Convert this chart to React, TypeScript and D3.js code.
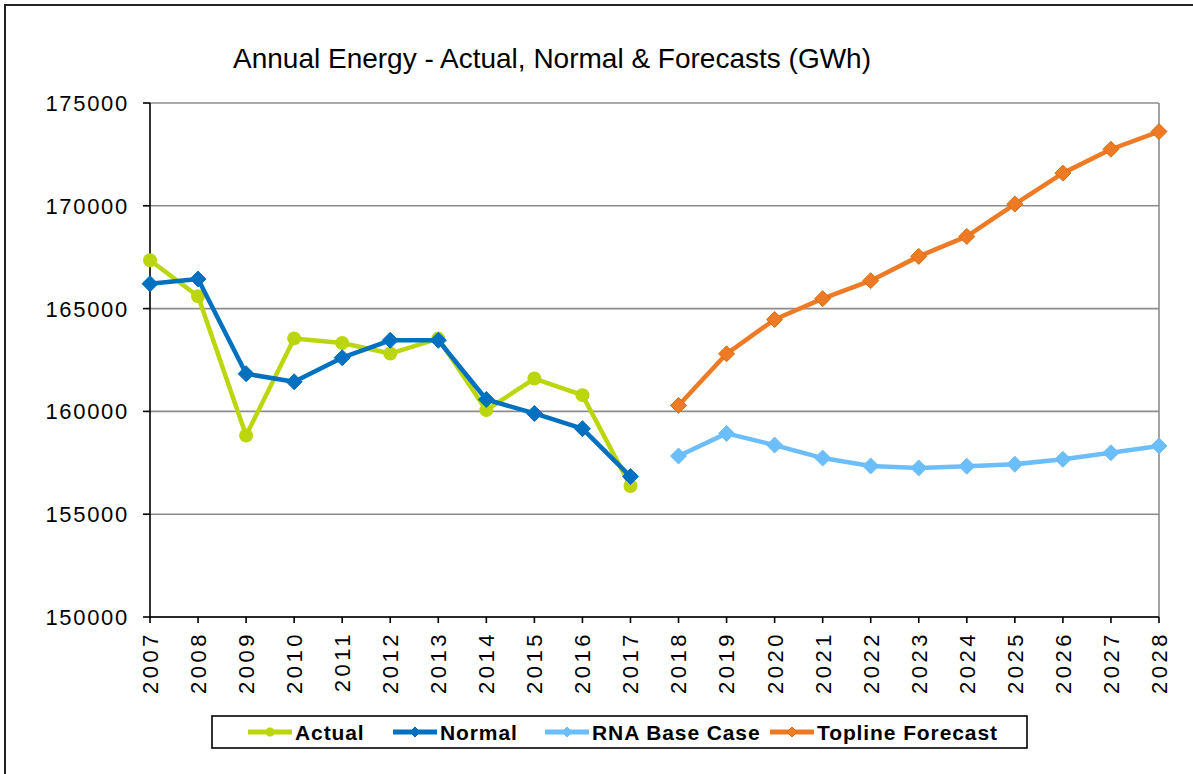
import React from "react";
import * as d3 from "d3";

const years = d3.range(2007, 2029);
const histYears = d3.range(2007, 2018);
const fcstYears = d3.range(2018, 2029);

const actual = [167350, 165600, 158830, 163550, 163330, 162815, 163540, 160060, 161600, 160790, 156370];
const normal = [166210, 166440, 161830, 161440, 162610, 163460, 163460, 160580, 159900, 159160, 156830];
const rnaBase = [157830, 158930, 158360, 157730, 157345, 157250, 157330, 157430, 157670, 157990, 158320];
const topline = [160290, 162800, 164470, 165485, 166360, 167540, 168510, 170085, 171590, 172750, 173610];

const yTicks = [150000, 155000, 160000, 165000, 170000, 175000];

const W = 1193;
const H = 774;
const L = 150, R = 1159, T = 103, B = 617;

const x = d3.scaleLinear().domain([2007, 2028]).range([L, R]);
const y = d3.scaleLinear().domain([150000, 175000]).range([B, T]);

const line = d3.line<[number, number]>().x((d) => x(d[0])).y((d) => y(d[1]));

const colors = {
  actual: "#BCD60E",
  normal: "#0070C0",
  rna: "#6CBEFA",
  topline: "#EE7A26",
};

function diamond(cx: number, cy: number, r: number) {
  return `M${cx},${cy - r}L${cx + r},${cy}L${cx},${cy + r}L${cx - r},${cy}Z`;
}

export default function App() {
  const series = [
    { key: "actual", yrs: histYears, vals: actual, color: colors.actual, marker: "circle" },
    { key: "normal", yrs: histYears, vals: normal, color: colors.normal, marker: "diamond" },
    { key: "rna", yrs: fcstYears, vals: rnaBase, color: colors.rna, marker: "diamond" },
    { key: "topline", yrs: fcstYears, vals: topline, color: colors.topline, marker: "diamondO" },
  ];
  const legend = [
    { label: "Actual", color: colors.actual, lx: 248, marker: "circle" },
    { label: "Normal", color: colors.normal, lx: 393, marker: "diamond" },
    { label: "RNA Base Case", color: colors.rna, lx: 545, marker: "diamond" },
    { label: "Topline Forecast", color: colors.topline, lx: 770, marker: "diamondO" },
  ];
  return (
    <svg
      width={W}
      height={H}
      style={{ position: "absolute", left: 0, top: 0, background: "#fff" }}
      fontFamily="'Liberation Sans', Arial, sans-serif"
    >
      <rect x={5} y={5} width={1300} height={900} fill="#fff" stroke="#222" strokeWidth={2} />
      <text x={552} y={68} textAnchor="middle" fontSize={28} fill="#000">
        Annual Energy - Actual, Normal &amp; Forecasts (GWh)
      </text>
      {/* gridlines */}
      {yTicks.map((t) => (
        <line key={t} x1={L} x2={R} y1={y(t)} y2={y(t)} stroke="#8c8c8c" strokeWidth={1.6} />
      ))}
      <line x1={R} x2={R} y1={T} y2={B} stroke="#8c8c8c" strokeWidth={1.6} />
      {/* axes */}
      <line x1={L} x2={L} y1={T} y2={B} stroke="#000" strokeWidth={1.6} />
      <line x1={L} x2={R} y1={B} y2={B} stroke="#000" strokeWidth={1.6} />
      {yTicks.map((t) => (
        <g key={"yt" + t}>
          <line x1={L - 7} x2={L} y1={y(t)} y2={y(t)} stroke="#000" strokeWidth={1.6} />
          <text x={129} y={y(t)} dy="0.36em" textAnchor="end" fontSize={22} letterSpacing={1.7} fill="#000">
            {t}
          </text>
        </g>
      ))}
      {years.map((yr) => (
        <g key={"xt" + yr}>
          <line x1={x(yr)} x2={x(yr)} y1={B} y2={B + 6} stroke="#000" strokeWidth={1.6} />
          <text
            transform={`translate(${x(yr)},${631}) rotate(-90)`}
            textAnchor="end"
            dy="0.36em"
            fontSize={22}
            letterSpacing={3.5}
            fill="#000"
          >
            {yr}
          </text>
        </g>
      ))}
      {/* series */}
      {series.map((s) => {
        const pts: [number, number][] = s.yrs.map((yr, i) => [yr, s.vals[i]]);
        return (
          <g key={s.key}>
            <path d={line(pts) || ""} fill="none" stroke={s.color} strokeWidth={4.5} strokeLinejoin="round" />
            {pts.map((p, i) =>
              s.marker === "circle" ? (
                <circle key={i} cx={x(p[0])} cy={y(p[1])} r={7} fill={s.color} />
              ) : (
                <path
                  key={i}
                  d={diamond(x(p[0]), y(p[1]), 8)}
                  fill={s.color}
                  stroke={s.marker === "diamondO" ? "#D4700E" : s.color}
                  strokeWidth={1}
                />
              )
            )}
          </g>
        );
      })}
      {/* legend */}
      <rect x={212} y={716} width={815} height={32} fill="#fff" stroke="#000" strokeWidth={1.6} />
      {legend.map((l) => (
        <g key={l.label}>
          <line x1={l.lx} x2={l.lx + 44} y1={732} y2={732} stroke={l.color} strokeWidth={5} />
          {l.marker === "circle" ? (
            <circle cx={l.lx + 22} cy={732} r={4.5} fill={l.color} />
          ) : (
            <path
              d={diamond(l.lx + 22, 732, 5)}
              fill={l.color}
              stroke={l.marker === "diamondO" ? "#D4700E" : l.color}
              strokeWidth={1}
            />
          )}
          <text x={l.lx + 47} y={732} dy="0.36em" fontSize={21} fontWeight="bold" letterSpacing={0.9} fill="#000">
            {l.label}
          </text>
        </g>
      ))}
    </svg>
  );
}
